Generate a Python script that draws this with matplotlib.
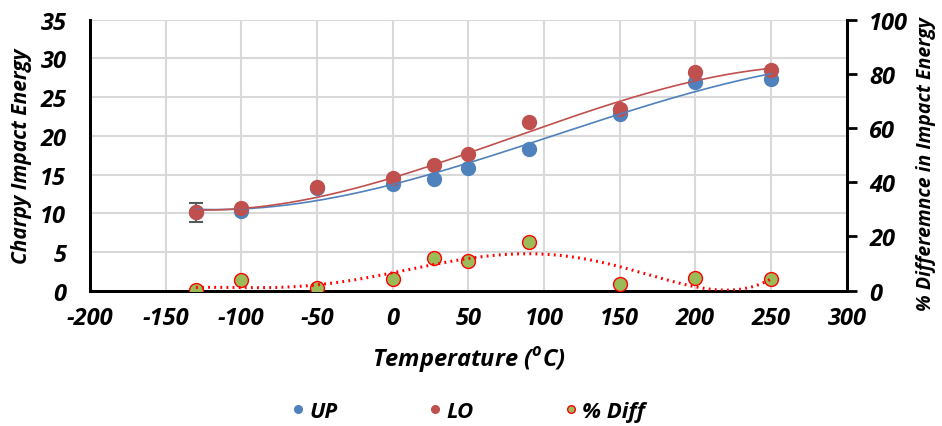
import numpy as np
import matplotlib
matplotlib.use("Agg")
import matplotlib.pyplot as plt
from matplotlib.lines import Line2D
from matplotlib.font_manager import FontProperties

plt.rcParams["axes.unicode_minus"] = False

# Data (markers)
temps = [-130, -100, -50, 0, 27, 50, 90, 150, 200, 250]
up = [10.1, 10.25, 13.3, 13.8, 14.4, 15.85, 18.3, 22.8, 26.9, 27.3]
lo = [10.1, 10.7, 13.4, 14.5, 16.2, 17.6, 21.75, 23.5, 28.3, 28.5]
pdiff = [0.3, 3.9, 1.1, 4.3, 12.1, 10.8, 18.1, 2.4, 4.8, 4.3]
lo_err = [1.2, 0, 0, 0, 0, 0, 0, 0, 0, 0]

# Trendline values
trend_t = [-130, -100, -50, 0, 27, 50, 90, 150, 200, 250]
up_trend = [10.46, 10.55, 11.8, 13.87, 14.9, 16.4, 18.95, 23.0, 25.7, 28.0]
lo_trend = [10.4, 10.6, 12.27, 14.4, 15.9, 18.0, 20.9, 24.1, 27.25, 28.7]
diff_t = [-130, -100, -50, 0, 27, 50, 90, 150, 200, 225, 250]
diff_trend = [1.1, 1.25, 2.1, 6.2, 9.9, 12.1, 13.5, 8.7, 1.5, 0.3, 4.3]

xticks = [-200, -150, -100, -50, 0, 50, 100, 150, 200, 250, 300]
yticks = [0, 5, 10, 15, 20, 25, 30, 35]
y2ticks = [0, 20, 40, 60, 80, 100]

FONT = "Open Sans"
def F(size):
    return FontProperties(family=FONT, weight="bold", style="italic", size=size)

c_up = "#4F81BD"
c_lo = "#C0504D"
c_gr = "#9BBB59"

fig = plt.figure(figsize=(9.42, 4.27), dpi=100)
ax = fig.add_axes([0.0955, 0.317, 0.8035, 0.6345])
ax2 = ax.twinx()

ax.set_xlim(-200, 300)
ax.set_ylim(0, 35)
ax2.set_ylim(0, 100)

ax.set_xticks(xticks)
ax.set_yticks(yticks)
ax2.set_yticks(y2ticks)
ax.grid(True, color="#D9D9D9", linewidth=1.5, zorder=0)
ax.set_axisbelow(True)

xs = np.linspace(-130, 250, 300)

ax.errorbar(temps, lo, yerr=lo_err, fmt="none", ecolor="#595959", elinewidth=1.5,
            capsize=5, capthick=1.5, zorder=2)
ax.plot(temps, up, "o", color=c_up, markersize=10, zorder=3)
ax.plot(temps, lo, "o", color=c_lo, markersize=10, zorder=4)
ax.plot(xs, np.polyval(np.polyfit(trend_t, up_trend, 3), xs), color=c_up, lw=1.2, zorder=5)
ax.plot(xs, np.polyval(np.polyfit(trend_t, lo_trend, 3), xs), color=c_lo, lw=1.2, zorder=5)

ax2.plot(temps, pdiff, "o", markerfacecolor=c_gr, markeredgecolor="#FF0000",
         markeredgewidth=1.0, markersize=10, zorder=3)
ax2.plot(xs, np.polyval(np.polyfit(diff_t, diff_trend, 5), xs), color="#FF0000", lw=2.2,
         linestyle=(0, (0.6, 1.4)), zorder=5)

for a in (ax, ax2):
    a.spines["top"].set_visible(False)
    for s in a.spines.values():
        s.set_linewidth(2)
        s.set_color("black")
ax.tick_params(axis="y", length=0, pad=17)
ax.tick_params(axis="x", length=0, pad=11)
ax2.tick_params(axis="y", length=7, width=2, direction="out", pad=9)
for lab in ax.get_xticklabels() + ax.get_yticklabels() + ax2.get_yticklabels():
    lab.set_fontproperties(F(17))

ax.set_xlabel("Temperature ($^{\\mathregular{o}}$C)", fontproperties=F(17))
ax.xaxis.set_label_coords(0.5, -0.197)
ax.set_ylabel("Charpy Impact Energy", fontproperties=F(15))
ax.yaxis.set_label_coords(-0.077, 0.5)
ax2.set_ylabel("% Differemnce in Impact Energy", fontproperties=F(14))
ax2.yaxis.set_label_coords(1.091, 0.47)

handles = [
    Line2D([], [], marker="o", ls="none", color=c_up, markersize=5.5),
    Line2D([], [], marker="o", ls="none", color=c_lo, markersize=5.5),
    Line2D([], [], marker="o", ls="none", markerfacecolor=c_gr, markeredgecolor="#FF0000",
           markersize=5.5),
]
fig.legend(handles, ["UP", "LO", "% Diff"], loc="center", bbox_to_anchor=(0.496, 0.035),
           ncol=3, frameon=False, prop=F(16), handletextpad=0.1,
           columnspacing=4.0, handlelength=0.8)

fig.savefig("out.png", dpi=100)
